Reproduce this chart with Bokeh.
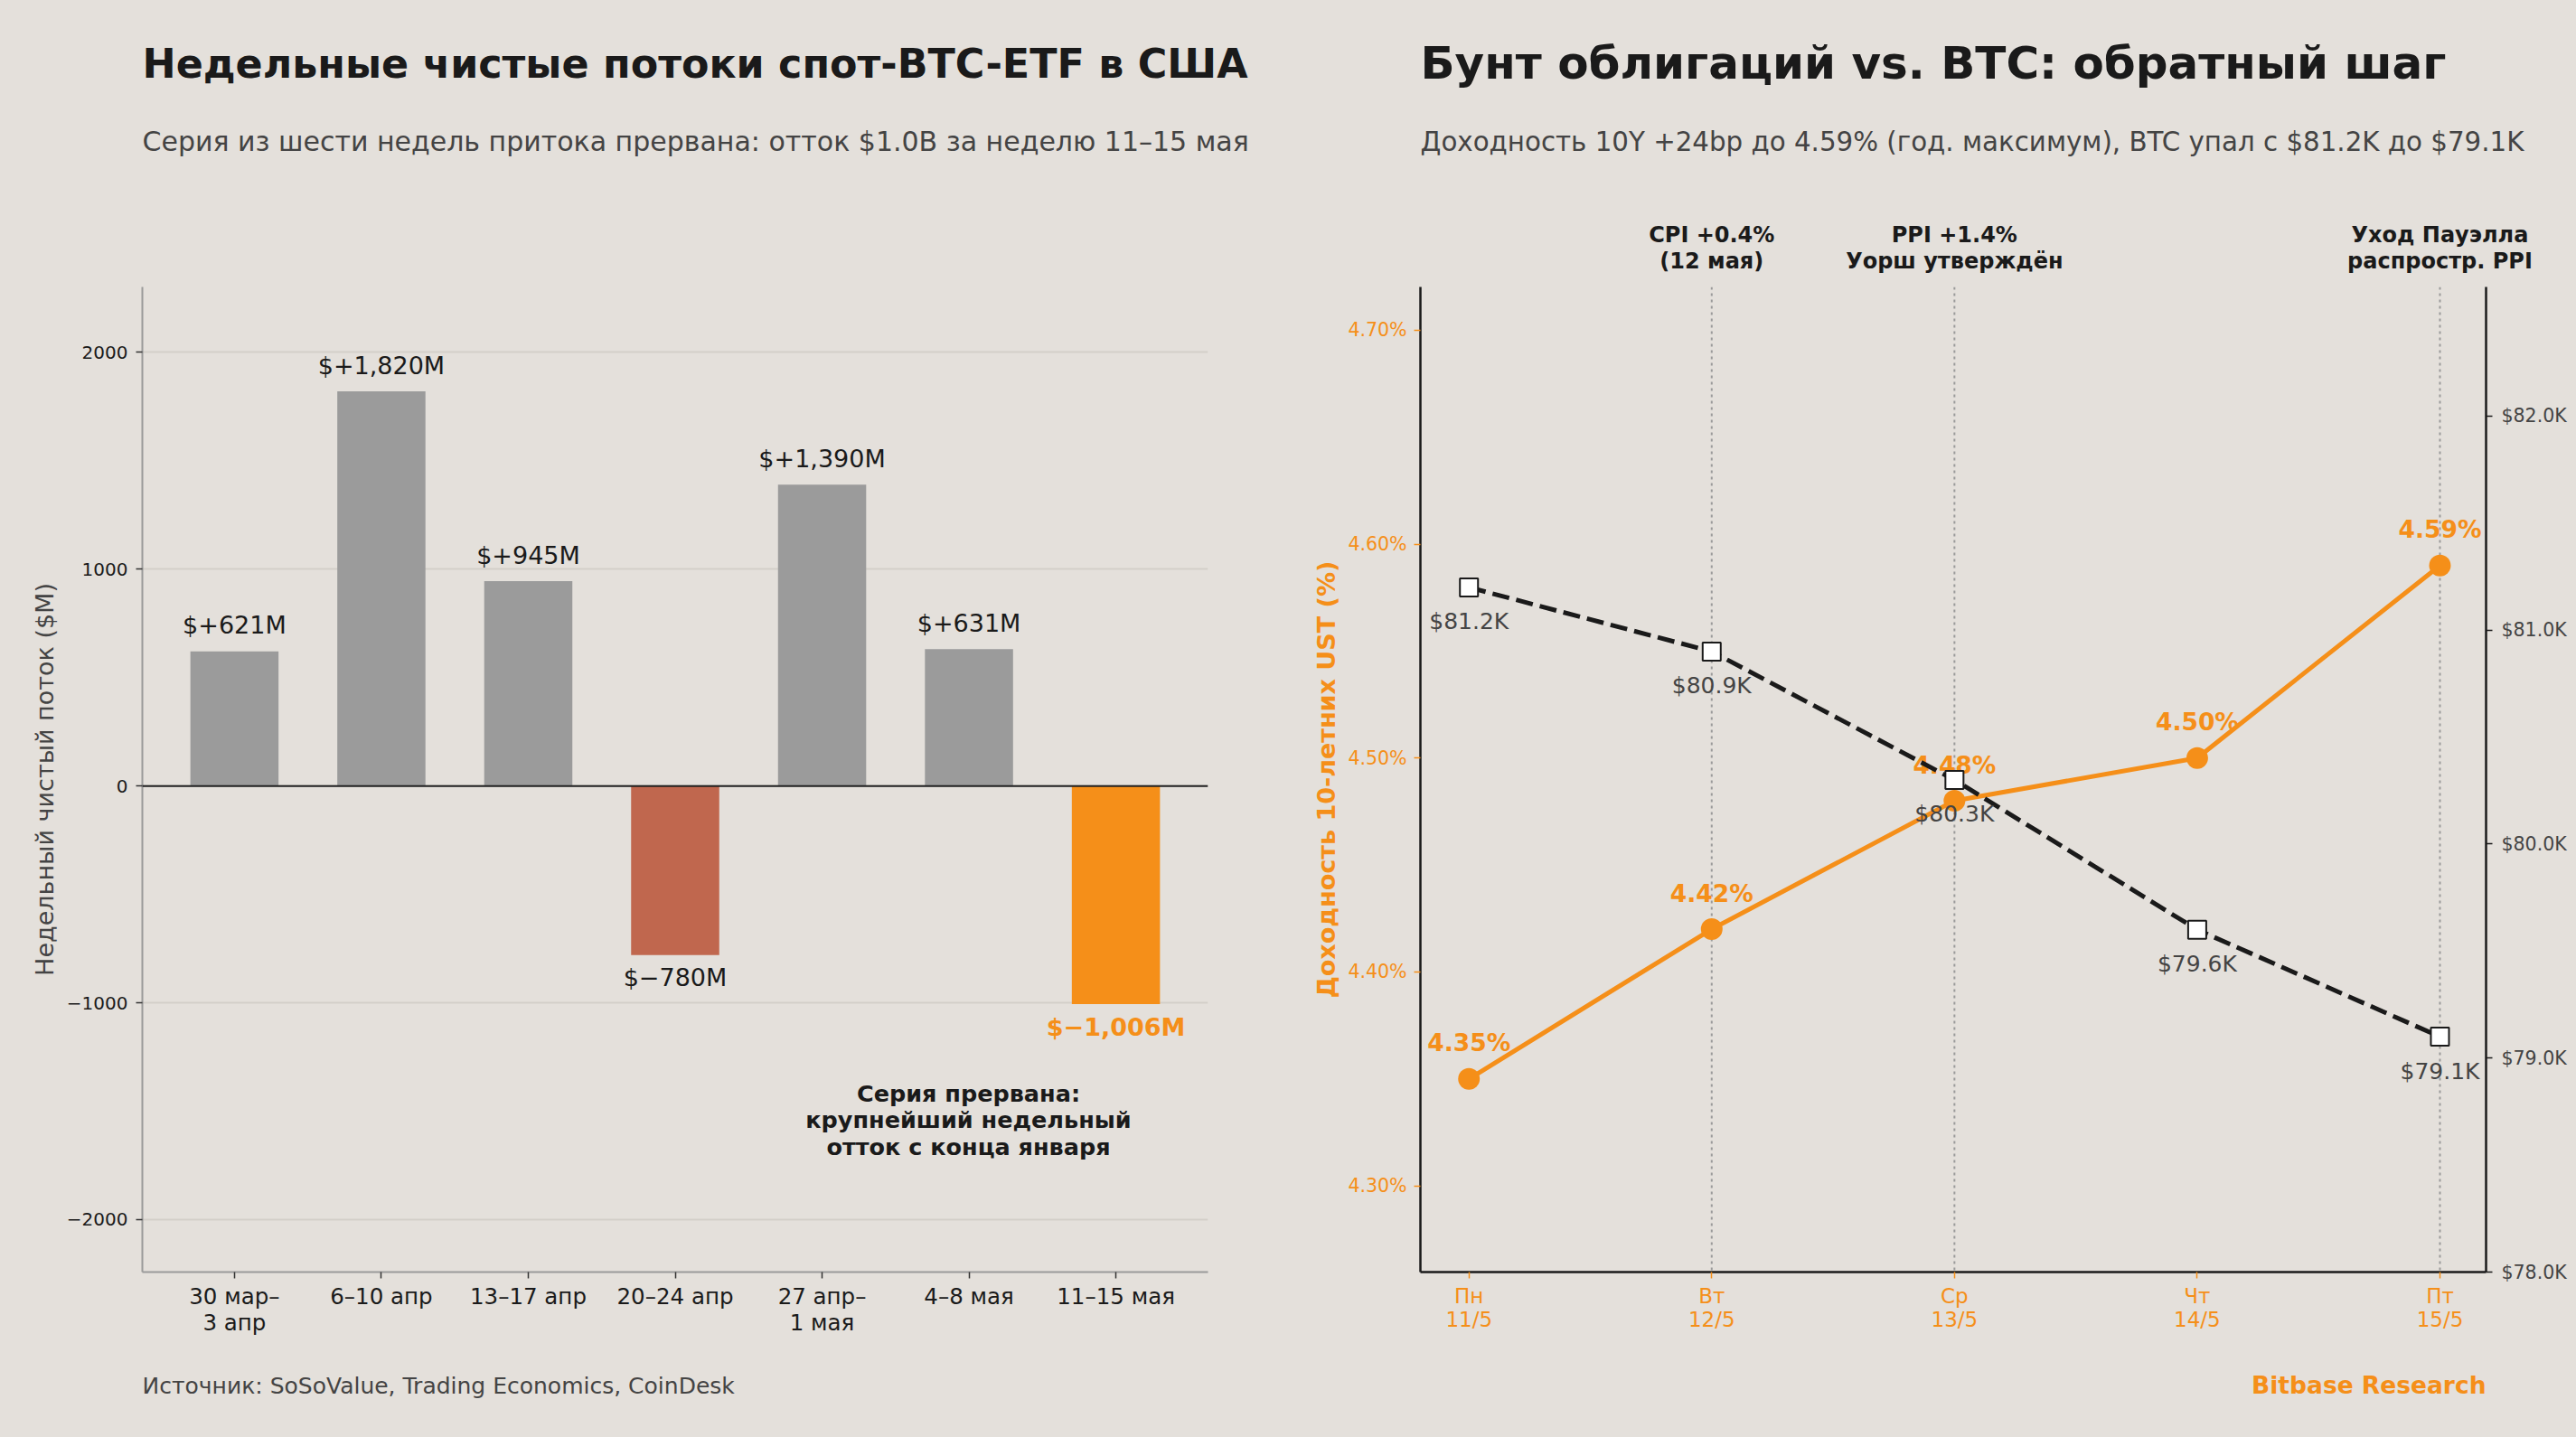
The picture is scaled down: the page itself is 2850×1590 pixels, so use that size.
from bokeh.plotting import figure
from bokeh.models import (Range1d, LinearAxis, FixedTicker, CustomJSTickFormatter,
                          Span, ColumnDataSource)
from bokeh.layouts import row, column
from bokeh.embed import file_html
from bokeh.resources import INLINE
from bokeh.core.properties import value

# ---------------- data ----------------
weeks = ["30 мар–\n3 апр", "6–10 апр", "13–17 апр", "20–24 апр",
         "27 апр–\n1 мая", "4–8 мая", "11–15 мая"]
flows = [621, 1820, 945, -780, 1390, 631, -1006]

days = ["Пн\n11/5", "Вт\n12/5", "Ср\n13/5", "Чт\n14/5", "Пт\n15/5"]
yields = [4.35, 4.42, 4.48, 4.50, 4.59]
btc_k = [81.2, 80.9, 80.3, 79.6, 79.1]

event_days = [1, 2, 4]
event_notes = [["CPI +0.4%", "(12 мая)"],
               ["PPI +1.4%", "Уорш утверждён"],
               ["Уход Пауэлла", "распростр. PPI"]]

# ---------------- style ----------------
BG = "#e4e0db"
FONT = "DejaVu Sans"
DARK = "#1a1a1a"
MID = "#444444"
ORANGE = "#f58f19"
GRAY_BAR = "#9b9b9b"
RED_BAR = "#c0674e"
GRID = "#d3cfc9"

PAGE_W, PAGE_H = 2850, 1590
HEAD_H = 317                 # header strip height (frames start below it)
FOOT_Y = 1500                # footer strip top
FW, FH = 1179, 1090          # frame size of each panel
CW = 1425                    # canvas width of each panel


def strip(y0, y1):
    """A full-width, axis-less strip whose data units equal page pixels."""
    f = figure(frame_width=PAGE_W, frame_height=y1 - y0, min_border=0,
               x_range=Range1d(0, PAGE_W), y_range=Range1d(y1, y0),
               x_axis_location=None, y_axis_location=None,
               output_backend="svg", toolbar_location=None,
               background_fill_color=BG, border_fill_color=BG,
               outline_line_color=None)
    f.grid.visible = False
    return f


def put(f, x, y, text, size, color=DARK, bold=False, align="left"):
    f.text(x=[x], y=[y], text=[text], text_align=align,
           text_baseline="alphabetic", text_font=value(FONT),
           text_font_size=size, text_font_style="bold" if bold else "normal",
           text_color=color)


# ---------------- left panel: weekly ETF flows ----------------
LX = (-0.627, 6.627)
LY = (-2242, 2302)
L_LEFT = 157

p1 = figure(frame_width=FW, frame_height=FH,
            min_border_left=L_LEFT, min_border_right=CW - L_LEFT - FW,
            min_border_top=0, min_border_bottom=FOOT_Y - HEAD_H - FH,
            x_range=Range1d(*LX), y_range=Range1d(*LY),
            output_backend="svg", toolbar_location=None,
            background_fill_color=BG, border_fill_color=BG,
            outline_line_color=None)

n = len(flows)
colors = []
for i, v in enumerate(flows):
    if i == n - 1:
        colors.append(ORANGE)
    elif v < 0:
        colors.append(RED_BAR)
    else:
        colors.append(GRAY_BAR)


def flow_label(v):
    return ("$+{:,}M".format(v) if v >= 0 else "$\u2212{:,}M".format(abs(v)))


src = ColumnDataSource(dict(x=list(range(n)), flow=flows, color=colors))
p1.vbar(x="x", top="flow", bottom=0, width=0.6, fill_color="color",
        line_color=None, source=src)

p1.add_layout(Span(location=0, dimension="width", line_color="#222222",
                   line_width=2))

pos = [i for i in range(n) if flows[i] >= 0]
neg = [i for i in range(n - 1) if flows[i] < 0]
p1.text(x=pos, y=[flows[i] for i in pos], text=[flow_label(flows[i]) for i in pos],
        text_align="center", text_baseline="alphabetic", y_offset=-29,
        text_font=value(FONT), text_font_size="27px", text_color=DARK)
p1.text(x=neg, y=[flows[i] for i in neg], text=[flow_label(flows[i]) for i in neg],
        text_align="center", text_baseline="alphabetic", y_offset=25,
        text_font=value(FONT), text_font_size="27px", text_color=DARK)
p1.text(x=[n - 1], y=[flows[-1]], text=[flow_label(flows[-1])],
        text_align="center", text_baseline="alphabetic", y_offset=25,
        text_font=value(FONT), text_font_size="27px", text_font_style="bold",
        text_color=ORANGE)

# callout next to the last bar, in frame pixels converted to data
callout = ["Серия прервана:", "крупнейший недельный", "отток с конца января"]
cx = LX[0] + (1071 - L_LEFT) * (LX[1] - LX[0]) / FW
cy = [LY[1] - (1209 + 29.8 * k - HEAD_H) * (LY[1] - LY[0]) / FH for k in range(3)]
p1.text(x=[cx] * 3, y=cy, text=callout, text_align="center",
        text_baseline="alphabetic", text_font=value(FONT), text_font_size="25.5px",
        text_font_style="bold", text_color=DARK)

p1.xgrid.visible = False
p1.ygrid.ticker = FixedTicker(ticks=[-2000, -1000, 0, 1000, 2000])
p1.ygrid.grid_line_color = GRID
p1.ygrid.grid_line_width = 2

p1.yaxis.ticker = FixedTicker(ticks=[-2000, -1000, 0, 1000, 2000])
p1.yaxis.formatter = CustomJSTickFormatter(
    code="return tick < 0 ? '\\u2212' + Math.abs(tick) : '' + tick;")
p1.xaxis.ticker = FixedTicker(ticks=list(range(n)))
p1.xaxis.major_label_overrides = {i: weeks[i] for i in range(n)}

for ax in (p1.xaxis[0], p1.yaxis[0]):
    ax.axis_line_color = "#9a9a9a"
    ax.axis_line_width = 2
    ax.major_tick_line_color = "#333333"
    ax.major_tick_line_width = 1.5
    ax.major_tick_in = 0
    ax.major_tick_out = 7
    ax.minor_tick_line_color = None
    ax.major_label_text_font = FONT
    ax.major_label_text_color = DARK
p1.yaxis.major_label_text_font_size = "20px"
p1.yaxis.major_label_standoff = 9
p1.xaxis.major_label_text_font_size = "24.5px"
p1.xaxis.major_label_text_line_height = 1.0
p1.xaxis.major_label_standoff = 5
p1.yaxis.axis_label = "Недельный чистый поток ($M)"
p1.yaxis.axis_label_text_font = FONT
p1.yaxis.axis_label_text_font_size = "27px"
p1.yaxis.axis_label_text_font_style = "normal"
p1.yaxis.axis_label_text_color = MID
p1.yaxis.axis_label_standoff = 6

# ---------------- right panel: 10Y yield vs BTC ----------------
RX = (-0.2, 4.19)
RY = (4.2597, 4.7202)
RB = (78.0, 82.604)
R_LEFT = 146     # frame left within the right canvas


def rx_page(x):
    return CW + R_LEFT + (x - RX[0]) * FW / (RX[1] - RX[0])


p2 = figure(frame_width=FW, frame_height=FH,
            min_border_left=R_LEFT, min_border_right=CW - R_LEFT - FW,
            min_border_top=0, min_border_bottom=FOOT_Y - HEAD_H - FH,
            x_range=Range1d(*RX), y_range=Range1d(*RY),
            output_backend="svg", toolbar_location=None,
            background_fill_color=BG, border_fill_color=BG,
            outline_line_color=None)
p2.extra_y_ranges = {"btc": Range1d(*RB)}
p2.grid.visible = False

for d in event_days:
    p2.add_layout(Span(location=d, dimension="height", line_color="#9a9a9a",
                       line_width=2, line_dash="3 4", level="underlay"))

xs = list(range(len(days)))
p2.line(xs, yields, line_color=ORANGE, line_width=5)
p2.scatter(xs, yields, size=24, fill_color=ORANGE, line_color=None)
p2.text(x=xs, y=yields, text=["{:.2f}%".format(v) for v in yields],
        text_align="center", text_baseline="alphabetic", y_offset=-40,
        text_font=value(FONT), text_font_size="26.5px", text_font_style="bold",
        text_color=ORANGE)

p2.line(xs, btc_k, y_range_name="btc", line_color=DARK, line_width=5,
        line_dash="19 8")
p2.scatter(xs, btc_k, y_range_name="btc", marker="square", size=20,
           fill_color="white", line_color=DARK, line_width=2)
p2.text(x=xs, y=btc_k, y_range_name="btc",
        text=["${:.1f}K".format(v) for v in btc_k],
        text_align="center", text_baseline="alphabetic", y_offset=38,
        text_font=value(FONT), text_font_size="25px", text_color=MID)

p2.yaxis.ticker = FixedTicker(ticks=[4.3, 4.4, 4.5, 4.6, 4.7])
p2.yaxis.formatter = CustomJSTickFormatter(code="return tick.toFixed(2) + '%';")
p2.xaxis.ticker = FixedTicker(ticks=xs)
p2.xaxis.major_label_overrides = {i: days[i] for i in xs}

ax_btc = LinearAxis(y_range_name="btc",
                    ticker=FixedTicker(ticks=[78, 79, 80, 81, 82]),
                    formatter=CustomJSTickFormatter(code="return '$' + tick.toFixed(1) + 'K';"))
p2.add_layout(ax_btc, "right")

for ax in (p2.xaxis[0], p2.yaxis[0], ax_btc):
    ax.axis_line_color = DARK
    ax.axis_line_width = 2.5
    ax.major_tick_in = 0
    ax.major_tick_out = 7
    ax.major_tick_line_width = 1.5
    ax.minor_tick_line_color = None
    ax.major_label_text_font = FONT

p2.yaxis[0].major_tick_line_color = ORANGE
p2.yaxis[0].major_label_text_color = ORANGE
p2.yaxis[0].major_label_text_font_size = "20.5px"
p2.yaxis[0].major_label_standoff = 8
p2.yaxis[0].axis_label = "Доходность 10-летних UST (%)"
p2.yaxis[0].axis_label_text_font = FONT
p2.yaxis[0].axis_label_text_font_size = "27px"
p2.yaxis[0].axis_label_text_font_style = "bold"
p2.yaxis[0].axis_label_text_color = ORANGE
p2.yaxis[0].axis_label_standoff = 5

p2.xaxis.major_tick_line_color = ORANGE
p2.xaxis.major_label_text_color = ORANGE
p2.xaxis.major_label_text_font_size = "23px"
p2.xaxis.major_label_text_line_height = 1.0
p2.xaxis.major_label_standoff = 6

ax_btc.major_tick_line_color = DARK
ax_btc.major_label_text_color = MID
ax_btc.major_label_text_font_size = "20.5px"
ax_btc.major_label_standoff = 10

# ---------------- header and footer strips ----------------
head = strip(0, HEAD_H)
put(head, L_LEFT, 70, "Недельные чистые потоки спот-BTC-ETF в США", "44.4px", bold=True)
put(head, L_LEFT, 156,
    "Серия из шести недель притока прервана: отток $1.0B за неделю 11–15 мая",
    "30px", color=MID)
put(head, CW + R_LEFT, 69, "Бунт облигаций vs. BTC: обратный шаг", "50px", bold=True)
put(head, CW + R_LEFT, 156,
    "Доходность 10Y +24bp до 4.59% (год. максимум), BTC упал с $81.2K до $79.1K",
    "29.3px", color=MID)
for d, lines in zip(event_days, event_notes):
    for k, line in enumerate(lines):
        put(head, rx_page(d), 259 + 29 * k, line, "24px", bold=True, align="center")

foot = strip(FOOT_Y, PAGE_H)
put(foot, L_LEFT, 1533, "Источник: SoSoValue, Trading Economics, CoinDesk", "25px",
    color=MID)
put(foot, CW + R_LEFT + FW, 1532, "Bitbase Research", "26.5px", color=ORANGE,
    bold=True, align="right")

layout = column(head, row(p1, p2, spacing=0), foot, spacing=0,
                styles={"background-color": BG})
open("out.html", "w").write(file_html(layout, INLINE))
